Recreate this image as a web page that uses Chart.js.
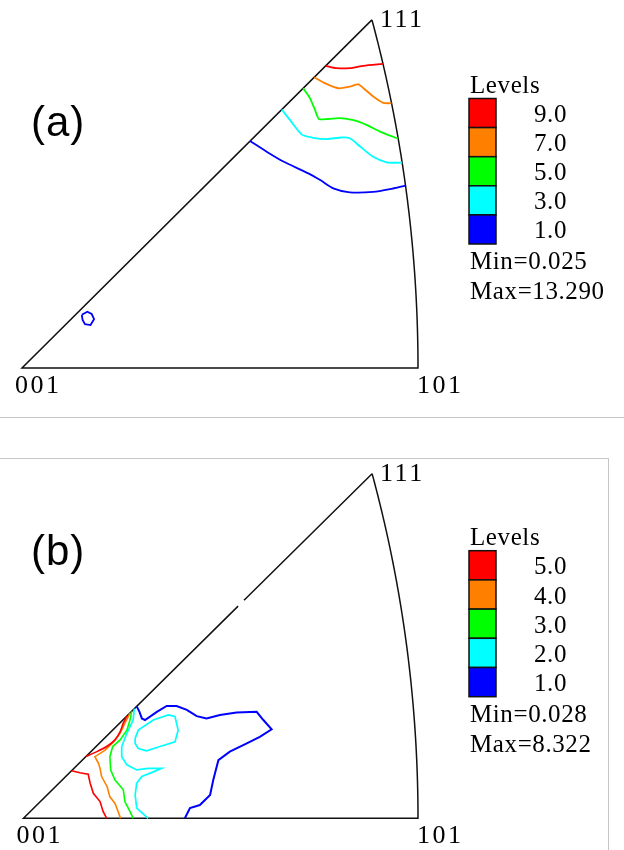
<!DOCTYPE html>
<html>
<head>
<meta charset="utf-8">
<script src="https://cdn.jsdelivr.net/npm/chart.js@4.4.1/dist/chart.umd.min.js"></script>
<style>
  body { margin: 0; background: #fff; }
  #wrap { position: relative; width: 624px; height: 850px; overflow: hidden; }
  canvas { position: absolute; left: 0; }
  #sep { position: absolute; left: 0; top: 417px; width: 624px; height: 1px; background: #c6c6c6; }
  #boxB { position: absolute; left: -2px; top: 458px; width: 610px; height: 420px;
          border-top: 1px solid #c6c6c6; border-right: 1px solid #c6c6c6; }
</style>
</head>
<body>
<div id="wrap">
  <canvas id="ca" width="624" height="416" style="top:0"></canvas>
  <div id="sep"></div>
  <div id="boxB"></div>
  <canvas id="cb" width="624" height="431" style="top:419px"></canvas>
</div>
<script>
// IPF coordinates: [001] = (0,0), [101] = (1,0), [111] = (0.8836, 0.8836)

// ---- panel (a) contours ----
var aLevel9 = [[0.767,0.767],[0.795,0.761],[0.828,0.761],[0.862,0.767],[0.911,0.772]];
var aLevel7 = [[0.738,0.738],[0.765,0.723],[0.799,0.710],[0.828,0.714],[0.849,0.720],[0.866,0.707],[0.887,0.689],[0.912,0.673],[0.933,0.672]];
var aLevel5 = [[0.710,0.710],[0.727,0.685],[0.740,0.655],[0.750,0.632],[0.773,0.632],[0.803,0.634],[0.837,0.629],[0.870,0.617],[0.904,0.600],[0.950,0.582]];
var aLevel3 = [[0.656,0.656],[0.677,0.629],[0.706,0.593],[0.732,0.585],[0.769,0.581],[0.807,0.585],[0.828,0.583],[0.854,0.562],[0.887,0.536],[0.921,0.522],[0.960,0.521]];
var aLevel1 = [[0.576,0.576],[0.618,0.549],[0.660,0.524],[0.723,0.494],[0.753,0.477],[0.786,0.456],[0.828,0.446],[0.887,0.447],[0.929,0.454],[0.968,0.463]];
var aLevel1Spot = [[0.151,0.135],[0.165,0.143],[0.176,0.137],[0.182,0.124],[0.173,0.109],[0.159,0.111],[0.153,0.122],[0.151,0.135]];

// ---- panel (b) contours ----
var bLevel5 = [[0.122,0.122],[0.143,0.117],[0.164,0.113],[0.169,0.090],[0.177,0.064],[0.194,0.043],[0.202,0.017],[0.211,0]];
var bLevel5Edge = [[0.159,0.159],[0.186,0.171],[0.211,0.184],[0.232,0.201],[0.245,0.222],[0.253,0.244],[0.262,0.262]];
var bLevel4 = [[0.270,0.270],[0.266,0.261],[0.257,0.244],[0.245,0.218],[0.228,0.196],[0.207,0.175],[0.181,0.158],[0.190,0.141],[0.194,0.128],[0.198,0.107],[0.212,0.081],[0.219,0.055],[0.232,0.038],[0.240,0.017],[0.246,0]];
var bLevel3 = [[0.274,0.274],[0.270,0.252],[0.262,0.226],[0.245,0.201],[0.226,0.184],[0.219,0.158],[0.221,0.124],[0.232,0.098],[0.253,0.073],[0.257,0.043],[0.270,0.017],[0.278,0]];
var bLevel2 = [[0.281,0.281],[0.278,0.252],[0.262,0.218],[0.249,0.184],[0.249,0.158],[0.262,0.137],[0.287,0.124],[0.316,0.128],[0.350,0.128],[0.329,0.119],[0.300,0.107],[0.287,0.090],[0.283,0.060],[0.287,0.026],[0.316,0]];
var bLevel2Loop = [[0.283,0.205],[0.291,0.226],[0.329,0.252],[0.367,0.265],[0.384,0.261],[0.392,0.226],[0.384,0.196],[0.346,0.184],[0.312,0.173],[0.291,0.179],[0.283,0.192],[0.283,0.205]];
var bLevel1 = [[0.287,0.287],[0.294,0.273],[0.300,0.256],[0.308,0.252],[0.338,0.273],[0.363,0.288],[0.388,0.288],[0.414,0.278],[0.439,0.262],[0.464,0.256],[0.498,0.265],[0.540,0.271],[0.591,0.273],[0.608,0.252],[0.629,0.228],[0.599,0.209],[0.566,0.192],[0.523,0.171],[0.494,0.149],[0.481,0.098],[0.473,0.060],[0.447,0.034],[0.422,0.026],[0.409,0]];

// ---- legends ----
var levelColors = ['#ff0000', '#ff8000', '#00ff00', '#00ffff', '#0000ff'];
var levelsA = ['9.0', '7.0', '5.0', '3.0', '1.0'];
var levelsB = ['5.0', '4.0', '3.0', '2.0', '1.0'];
var minMaxA = ['Min=0.025', 'Max=13.290'];
var minMaxB = ['Min=0.028', 'Max=8.322'];
var poleLabels = ['001', '101', '111'];

var POLE111 = 0.8836;

function line(pts, color, width, tension){
    return {
        data: pts.map(function(p){ return {x: p[0], y: p[1]}; }),
        showLine: true,
        borderColor: color,
        borderWidth: width,
        pointRadius: 0,
        tension: tension,
        fill: false
    };
}

function ipfPlugin(cfg){
    return {
        id: 'ipf',
        beforeDatasetsDraw: function(chart){
            var ctx = chart.ctx, x = chart.scales.x, y = chart.scales.y;
            ctx.save();
            ctx.strokeStyle = '#111';
            ctx.lineWidth = 1.5;
            ctx.beginPath();
            ctx.moveTo(x.getPixelForValue(POLE111), y.getPixelForValue(POLE111));
            if (cfg.gap){
                ctx.lineTo(x.getPixelForValue(cfg.gap[1]), y.getPixelForValue(cfg.gap[1]));
                ctx.moveTo(x.getPixelForValue(cfg.gap[0]), y.getPixelForValue(cfg.gap[0]));
            }
            ctx.lineTo(x.getPixelForValue(0), y.getPixelForValue(0));
            ctx.lineTo(x.getPixelForValue(1), y.getPixelForValue(0));
            // great circle between [101] and [111]
            var sMax = Math.asin(1 / Math.sqrt(3)), t = Math.tan(Math.PI / 8);
            for (var i = 0; i <= 80; i++){
                var s = sMax * i / 80;
                var a = Math.cos(s) / Math.SQRT2, b = Math.sin(s);
                var k = 1 / ((1 + a) * t);
                ctx.lineTo(x.getPixelForValue(a * k), y.getPixelForValue(b * k));
            }
            ctx.stroke();
            ctx.restore();
        },
        afterDraw: function(chart){
            var ctx = chart.ctx, x = chart.scales.x, y = chart.scales.y;
            ctx.save();
            ctx.fillStyle = '#000';
            ctx.textAlign = 'left';
            ctx.textBaseline = 'alphabetic';

            // pole labels
            ctx.font = '26px "Liberation Serif", "Times New Roman", serif';
            ctx.letterSpacing = '2.5px';
            ctx.fillText(poleLabels[0], x.getPixelForValue(0) - 7, y.getPixelForValue(0) + 25);
            ctx.fillText(poleLabels[1], x.getPixelForValue(1) - 1, y.getPixelForValue(0) + 25);
            ctx.fillText(poleLabels[2], x.getPixelForValue(POLE111) + 8, y.getPixelForValue(POLE111) + 7);

            // panel letter
            ctx.letterSpacing = '1px';
            ctx.font = '42px "Liberation Sans", Arial, sans-serif';
            ctx.fillText(cfg.letter, 31, cfg.letterY);

            // level legend
            ctx.letterSpacing = '0.6px';
            ctx.font = '25px "Liberation Serif", "Times New Roman", serif';
            ctx.fillText('Levels', 470, cfg.legTop - 6);
            var h = cfg.boxH;
            for (var i = 0; i < levelColors.length; i++){
                var top = cfg.legTop + i * h;
                ctx.fillStyle = levelColors[i];
                ctx.fillRect(469, top, 27, h);
                ctx.strokeStyle = '#111';
                ctx.lineWidth = 1.5;
                ctx.strokeRect(469, top, 27, h);
                ctx.fillStyle = '#000';
                ctx.textAlign = 'right';
                ctx.fillText(cfg.levels[i], 567, top + h / 2 + 9);
                ctx.textAlign = 'left';
            }
            var bottom = cfg.legTop + 5 * h;
            ctx.fillText(cfg.minMax[0], 470, bottom + 25);
            ctx.fillText(cfg.minMax[1], 470, bottom + 55);
            ctx.restore();
        }
    };
}

function makePanel(id, range, datasets, cfg){
    return new Chart(document.getElementById(id), {
        type: 'scatter',
        data: { datasets: datasets },
        options: {
            responsive: false,
            animation: false,
            layout: { padding: 0 },
            plugins: { legend: { display: false }, tooltip: { enabled: false } },
            scales: {
                x: { type: 'linear', display: false, min: range[0], max: range[1] },
                y: { type: 'linear', display: false, min: range[2], max: range[3] }
            }
        },
        plugins: [ipfPlugin(cfg)]
    });
}

makePanel('ca', [-0.05556, 1.52020, -0.12183, 0.93401], [
    line(aLevel9, levelColors[0], 1.8, 0.25),
    line(aLevel7, levelColors[1], 1.8, 0.25),
    line(aLevel5, levelColors[2], 1.8, 0.25),
    line(aLevel3, levelColors[3], 1.8, 0.25),
    line(aLevel1, levelColors[4], 1.8, 0.25),
    line(aLevel1Spot, levelColors[4], 1.8, 0)
], { letter: '(a)', letterY: 136, legTop: 98.5, boxH: 29.1, levels: levelsA, minMax: minMaxA });

makePanel('cb', [-0.05957, 1.52218, -0.08128, 1.02385], [
    line(bLevel5, levelColors[0], 1.6, 0),
    line(bLevel5Edge, levelColors[0], 1.6, 0.2),
    line(bLevel4, levelColors[1], 1.6, 0),
    line(bLevel3, levelColors[2], 1.6, 0),
    line(bLevel2, levelColors[3], 1.7, 0),
    line(bLevel2Loop, levelColors[3], 1.7, 0),
    line(bLevel1, levelColors[4], 2, 0)
], { letter: '(b)', letterY: 145.5, legTop: 131.7, boxH: 29.2, levels: levelsB, minMax: minMaxB, gap: [0.544, 0.559] });
</script>
</body>
</html>
